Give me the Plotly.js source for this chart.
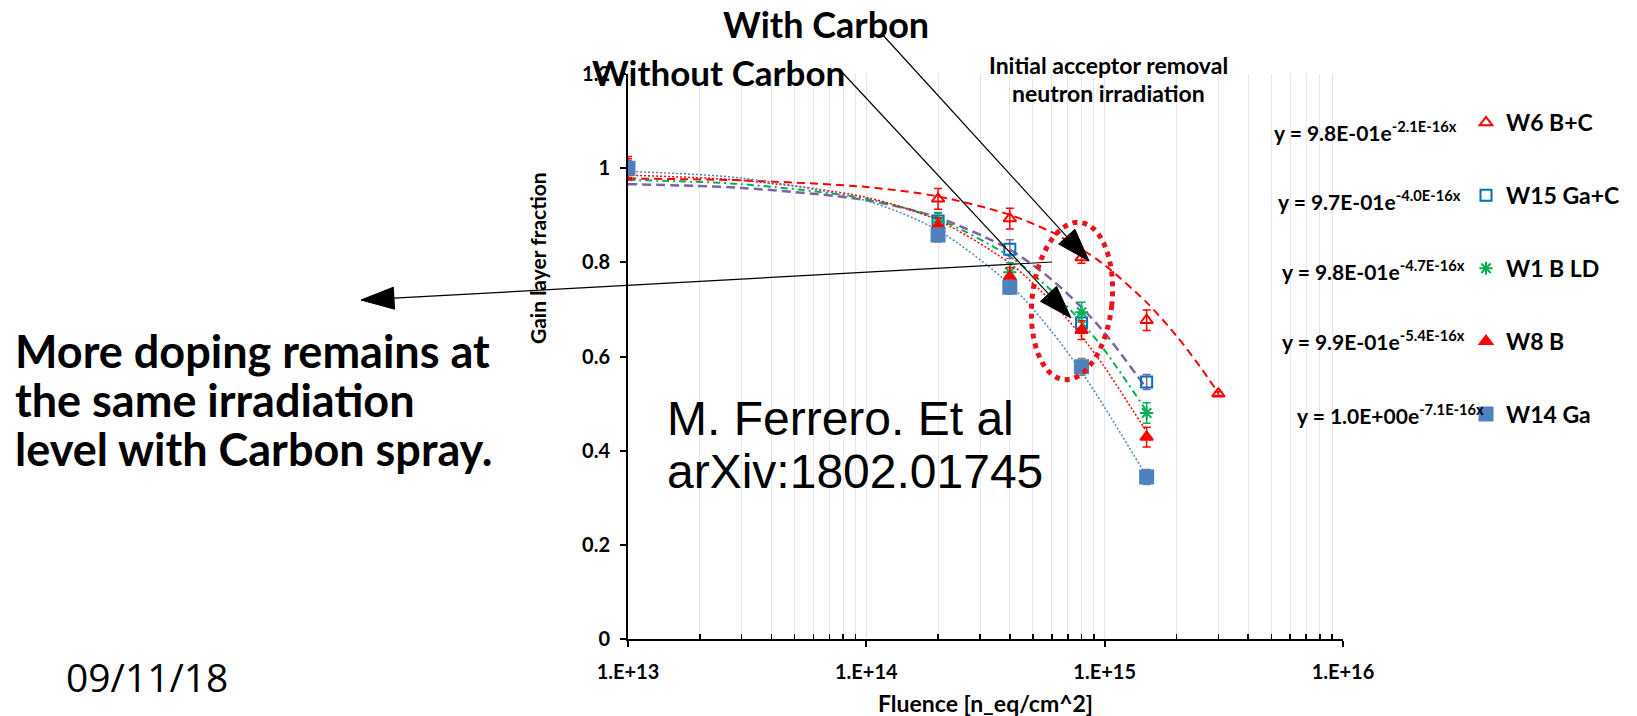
<!DOCTYPE html>
<html><head><meta charset="utf-8">
<script src="https://cdn.plot.ly/plotly-3.0.1.min.js"></script>
<style>html,body{margin:0;padding:0;background:#fff}#chart{width:1637px;height:716px}</style>
</head><body><div id="chart"></div>
<script>
// ---- data ----
const fluence = [1e13, 2e14, 4e14, 8e14, 1.5e15];
const fluenceW6 = [1e13, 2e14, 4e14, 8e14, 1.5e15, 3e15];
const w6 = [1.0, 0.935, 0.893, 0.810, 0.677, 0.521];
const w6Err = [0.025, 0.022, 0.022, 0.012, 0.022, 0.004];
const w15 = [1.0, 0.888, 0.828, 0.671, 0.546];
const w15Err = [0.015, 0.016, 0.02, 0.02, 0.016];
const w1 = [1.0, 0.886, 0.779, 0.694, 0.480];
const w1Err = [0.015, 0.02, 0.02, 0.021, 0.022];
const w8 = [1.0, 0.878, 0.769, 0.656, 0.429];
const w8Err = [0.02, 0.016, 0.02, 0.02, 0.021];
const w14 = [1.0, 0.858, 0.747, 0.578, 0.344];
const w14Err = [0.01, 0.015, 0.015, 0.018, 0.016];

// trend lines, values
const trendX = [1e13, 3e13, 1e14, 2e14, 4e14, 6e14, 8e14, 1e15, 1.5e15];
const trendXW6 = [1e13, 3e13, 1e14, 2e14, 4e14, 6e14, 8e14, 1e15, 1.5e15, 2e15, 2.5e15, 3e15];
const trendW6 = [0.978, 0.974, 0.960, 0.940, 0.901, 0.864, 0.828, 0.794, 0.715, 0.644, 0.580, 0.522];
const trendW15 = [0.966, 0.958, 0.932, 0.895, 0.827, 0.763, 0.704, 0.650, 0.532];
const trendW1 = [0.975, 0.966, 0.935, 0.892, 0.812, 0.739, 0.673, 0.613, 0.484];
const trendW8 = [0.985, 0.974, 0.938, 0.889, 0.798, 0.716, 0.643, 0.577, 0.440];
const trendW14 = [0.993, 0.979, 0.931, 0.868, 0.753, 0.653, 0.567, 0.492, 0.345];

const seriesNames = ['W6 B+C', 'W15 Ga+C', 'W1 B LD', 'W8 B', 'W14 Ga'];
const equations = [
  'y = 9.8E-01e<sup>-2.1E-16x</sup>',
  'y = 9.7E-01e<sup>-4.0E-16x</sup>',
  'y = 9.8E-01e<sup>-4.7E-16x</sup>',
  'y = 9.9E-01e<sup>-5.4E-16x</sup>',
  'y = 1.0E+00e<sup>-7.1E-16x</sup>'
];
const xTickVals = [1e13, 1e14, 1e15, 1e16];
const xTickText = ['1.E+13', '1.E+14', '1.E+15', '1.E+16'];

// ---- geometry helpers (plot area in page pixels) ----
const L = 628, R = 1343, T = 74, B = 639;
const fx = p => (p - L) / (R - L);
const fy = p => (B - p) / (B - T);

const RED = '#FF0000', BLUE = '#0070C0', GREEN = '#00B050', PURPLE = '#8064A2', STEEL = '#4F81BD';

function trend(x, y, color, dash, width) {
  return {x: x, y: y, type: 'scatter', mode: 'lines', showlegend: false, hoverinfo: 'skip',
    line: {color: color, dash: dash, width: width, shape: 'spline', smoothing: 0.8}};
}
function pts(name, x, y, err, symbol, color, size, errColor) {
  return {x: x, y: y, name: name, type: 'scatter', mode: 'markers', legendgroup: name,
    marker: {symbol: symbol, color: color, size: size, line: {color: color, width: 2}},
    error_y: {type: 'data', array: err, visible: true, color: errColor, thickness: 1.5, width: 4}};
}

const traces = [
  trend(trendXW6, trendW6, RED, '8px,5px', 2),
  trend(trendX, trendW15, PURPLE, '9px,5px', 2.5),
  trend(trendX, trendW1, GREEN, '7px,4px,2px,4px', 2),
  trend(trendX, trendW8, RED, '2px,2px', 1.5),
  trend(trendX, trendW14, STEEL, '2px,2px', 1.5),
  pts(seriesNames[0], fluenceW6, w6, w6Err, 'triangle-up-open', RED, 11, RED),
  pts(seriesNames[1], fluence, w15, w15Err, 'square-open', BLUE, 11, '#7F62A8'),
  pts(seriesNames[2], fluence, w1, w1Err, 'asterisk-open', GREEN, 11, GREEN),
  pts(seriesNames[3], fluence, w8, w8Err, 'triangle-up', RED, 11, RED),
  pts(seriesNames[4], fluence, w14, w14Err, 'square', STEEL, 13, '#7F7F7F')
];

// arrows: thin line + big filled head
function arrow(tx, ty, hx, hy, len, hw) {
  const dx = hx - tx, dy = hy - ty, d = Math.hypot(dx, dy);
  const ux = dx / d, uy = dy / d;
  const bx = hx - ux * len, by = hy - uy * len;
  const p1x = bx - uy * hw, p1y = by + ux * hw, p2x = bx + uy * hw, p2y = by - ux * hw;
  return [
    {type: 'line', xref: 'paper', yref: 'paper', x0: fx(tx), y0: fy(ty), x1: fx(bx), y1: fy(by),
      line: {color: '#000', width: 1.2}},
    {type: 'path', xref: 'paper', yref: 'paper',
      path: `M${fx(hx)},${fy(hy)} L${fx(p1x)},${fy(p1y)} L${fx(p2x)},${fy(p2y)} Z`,
      fillcolor: '#000', line: {color: '#000', width: 1}}
  ];
}
function ellipsePath(cx, cy, rx, ry, rotDeg) {
  const a = rotDeg * Math.PI / 180; let s = '';
  for (let i = 0; i <= 72; i++) {
    const t = i / 72 * 2 * Math.PI;
    const ex = rx * Math.cos(t), ey = ry * Math.sin(t);
    const px = cx + ex * Math.cos(a) - ey * Math.sin(a);
    const py = cy + ex * Math.sin(a) + ey * Math.cos(a);
    s += (i ? ' L' : 'M') + fx(px).toFixed(5) + ',' + fy(py).toFixed(5);
  }
  return s + ' Z';
}

const shapes = [].concat(
  arrow(881, 33, 1089, 261, 33, 11),
  arrow(840, 70, 1071, 318, 33, 11),
  arrow(1052, 262, 361, 300, 33, 11),
  [{type: 'path', xref: 'paper', yref: 'paper', path: ellipsePath(1072, 301, 40, 79, 6),
    line: {color: '#E8141C', width: 5, dash: 'dot'}}]
);

const CAL = 'Lato, "Liberation Sans", sans-serif';
function txt(text, x, y, size, opts) {
  return Object.assign({text: text, xref: 'paper', yref: 'paper', x: fx(x), y: fy(y), showarrow: false,
    xanchor: 'left', yanchor: 'middle', font: {family: CAL, size: size, color: '#000', weight: 'bold'}}, opts || {});
}
const ARIAL = {family: '"Liberation Sans", Arial, sans-serif', size: 48, color: '#000'};
const eqX = [1272, 1276, 1280, 1280, 1295];
const eqY = [131, 200, 270, 340, 414];
const annotations = [
  txt('With Carbon', 826, 24, 36, {xanchor: 'center'}),
  txt('Without Carbon', 718, 72, 35, {xanchor: 'center'}),
  txt('Initial acceptor removal', 1108, 65, 23, {xanchor: 'center'}),
  txt('neutron irradiation', 1108, 93, 23, {xanchor: 'center'}),
  txt('M. Ferrero. Et al', 665, 418, 48, {font: ARIAL}),
  txt('arXiv:1802.01745', 665, 471, 48, {font: ARIAL}),
  txt('More doping remains at', 13, 351, 45),
  txt('the same irradiation', 13, 400, 45),
  txt('level with Carbon spray.', 13, 449, 45),
  txt('09/11/18', 64, 676, 39, {font: {family: '"Open Sans", sans-serif', size: 39, color: '#000'}}),
  txt('Gain layer fraction', 537, 258, 21, {xanchor: 'center', textangle: -90}),
  txt('Fluence [n_eq/cm^2]', 985, 703, 23, {xanchor: 'center'})
].concat(equations.map((e, i) => txt(e, eqX[i], eqY[i], 21)));

const minorVals = [];
for (let e = 13; e < 16; e++) for (let k = 2; k <= 9; k++) minorVals.push(k * Math.pow(10, e));

const layout = {
  width: 1637, height: 716,
  margin: {l: L, r: 1637 - R, t: T, b: 716 - B},
  paper_bgcolor: '#fff', plot_bgcolor: '#fff',
  showlegend: true,
  legend: {x: fx(1466), y: fy(101), xanchor: 'left', yanchor: 'top', traceorder: 'grouped',
    tracegroupgap: 40, itemwidth: 30, bgcolor: 'rgba(0,0,0,0)',
    font: {family: CAL, size: 23, color: '#000', weight: 'bold'}},
  xaxis: {type: 'log', range: [13, 16], tickmode: 'array', tickvals: xTickVals, ticktext: xTickText,
    showline: true, linecolor: '#000', linewidth: 2, ticks: 'outside', ticklen: 6, tickwidth: 2, tickcolor: '#000',
    showgrid: true, gridcolor: '#e6e6e6', gridwidth: 1, zeroline: false, ticklabelstandoff: 8,
    minor: {tickmode: 'array', tickvals: minorVals, showgrid: true, gridcolor: '#e6e6e6', gridwidth: 1,
      ticks: 'inside', ticklen: 5, tickwidth: 1.5, tickcolor: '#000'},
    tickfont: {family: CAL, size: 20, color: '#000', weight: 'bold'}},
  yaxis: {range: [0, 1.2], dtick: 0.2, tick0: 0, showgrid: false, zeroline: false,
    showline: true, linecolor: '#000', linewidth: 2, ticks: 'outside', ticklen: 6, tickwidth: 2, tickcolor: '#000',
    ticklabelstandoff: 6,
    tickfont: {family: CAL, size: 20, color: '#000', weight: 'bold'}},
  shapes: shapes,
  annotations: annotations
};

Plotly.newPlot('chart', traces, layout, {staticPlot: true, displayModeBar: false});
</script>
</body></html>
